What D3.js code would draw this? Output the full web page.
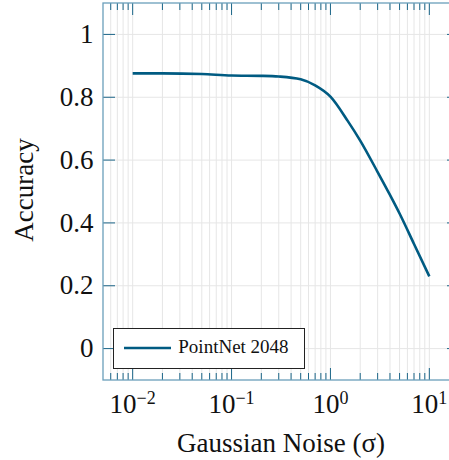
<!DOCTYPE html>
<html lang="en">
<head>
<meta charset="UTF-8">
<title>Accuracy vs Gaussian Noise</title>
<script src="https://d3js.org/d3.v7.min.js"></script>
<style>
  body { margin: 0; background: #fff; }
  svg { display: block; }
</style>
</head>
<body>
<script>
// data
const sigma = [0.01, 0.02, 0.05, 0.1, 0.2, 0.3, 0.5, 0.7, 1.0, 1.5, 2, 3, 4, 5, 7, 10];
const accuracy = [0.876, 0.876, 0.874, 0.869, 0.868, 0.866, 0.857, 0.838, 0.802, 0.724, 0.662, 0.562, 0.489, 0.430, 0.333, 0.230];
const seriesName = "PointNet 2048";
const yTicks = [0, 0.2, 0.4, 0.6, 0.8, 1];
const xDecades = [-2, -1, 0, 1];

const W = 449, H = 460;
const plotL = 103, plotR = 459, plotT = 3, plotB = 380;
const lineColor = "#005b82";
const axisColor = "#6a9fbb";
const tickColor = "#1c6689";
const gridColor = "#e6e6e6";
const serif = "'Liberation Serif', 'Times New Roman', serif";

const svg = d3.select("body").append("svg")
    .attr("width", W)
    .attr("height", H);

const x = d3.scaleLog()
    .domain([Math.pow(10, -2.3), Math.pow(10, 1.3)])
    .range([plotL, plotR]);

const y = d3.scaleLinear()
    .domain([-0.1, 1.1])
    .range([plotB, plotT]);

// minor/major x positions
const minorX = [];
for (let e = -3; e <= 1; e++) {
    for (let m = 2; m <= 9; m++) {
        const v = m * Math.pow(10, e);
        if (v > x.domain()[0] && v < x.domain()[1]) minorX.push(v);
    }
}
const majorX = xDecades.map(e => Math.pow(10, e));

// grid
const grid = svg.append("g");
grid.selectAll(".gx")
    .data(minorX.concat(majorX))
    .enter().append("line")
    .attr("x1", d => x(d)).attr("x2", d => x(d))
    .attr("y1", plotT).attr("y2", plotB)
    .attr("stroke", gridColor).attr("stroke-width", 1);
grid.selectAll(".gy")
    .data(yTicks)
    .enter().append("line")
    .attr("x1", plotL).attr("x2", plotR)
    .attr("y1", d => y(d)).attr("y2", d => y(d))
    .attr("stroke", gridColor).attr("stroke-width", 1);

// curve
const pts = sigma.map((s, i) => ({s: s, a: accuracy[i]}));
const line = d3.line()
    .x(d => x(d.s))
    .y(d => y(d.a))
    .curve(d3.curveMonotoneX);

svg.append("path")
    .datum(pts)
    .attr("fill", "none")
    .attr("stroke", lineColor)
    .attr("stroke-width", 2.6)
    .attr("stroke-linejoin", "round")
    .attr("d", line);

// ticks (inward, all four sides)
const ticks = svg.append("g").attr("stroke", tickColor).attr("stroke-width", 1);
function xTick(v, len) {
    ticks.append("line").attr("x1", x(v)).attr("x2", x(v)).attr("y1", plotB).attr("y2", plotB - len);
    ticks.append("line").attr("x1", x(v)).attr("x2", x(v)).attr("y1", plotT).attr("y2", plotT + len);
}
minorX.forEach(v => xTick(v, 7));
majorX.forEach(v => xTick(v, 12));
yTicks.forEach(v => {
    ticks.append("line").attr("x1", plotL).attr("x2", plotL + 12).attr("y1", y(v)).attr("y2", y(v));
    ticks.append("line").attr("x1", plotR).attr("x2", plotR - 12).attr("y1", y(v)).attr("y2", y(v));
});

// frame
svg.append("rect")
    .attr("x", plotL).attr("y", plotT)
    .attr("width", plotR - plotL).attr("height", plotB - plotT)
    .attr("fill", "none")
    .attr("stroke", axisColor)
    .attr("stroke-width", 1.3);

// y tick labels
svg.selectAll(".ylab")
    .data(yTicks)
    .enter().append("text")
    .attr("x", 93.5)
    .attr("y", d => y(d) + 8.7)
    .attr("text-anchor", "end")
    .attr("font-family", serif)
    .attr("font-size", 27)
    .attr("fill", "#111")
    .text(d => d === 0 || d === 1 ? d3.format("d")(d) : d3.format(".1f")(d));

// x tick labels 10^e
xDecades.forEach(e => {
    const t = svg.append("text")
        .attr("x", x(Math.pow(10, e)))
        .attr("y", 413.3)
        .attr("text-anchor", "middle")
        .attr("font-family", serif)
        .attr("font-size", 27)
        .attr("fill", "#111");
    t.append("tspan").text("10");
    t.append("tspan")
        .attr("font-size", 18)
        .attr("dy", -9)
        .text(e < 0 ? "\u2212" + Math.abs(e) : String(e));
});

// axis titles
svg.append("text")
    .attr("transform", "translate(32.5,190) rotate(-90)")
    .attr("text-anchor", "middle")
    .attr("font-family", serif)
    .attr("font-size", 27)
    .attr("fill", "#111")
    .text("Accuracy");

svg.append("text")
    .attr("x", 281)
    .attr("y", 451.7)
    .attr("text-anchor", "middle")
    .attr("font-family", serif)
    .attr("font-size", 27)
    .attr("fill", "#111")
    .text("Gaussian Noise (\u03c3)");

// legend
const lg = svg.append("g");
lg.append("rect")
    .attr("x", 113.5).attr("y", 328.5)
    .attr("width", 191).attr("height", 40)
    .attr("fill", "#fff")
    .attr("stroke", "#222")
    .attr("stroke-width", 1);
lg.append("line")
    .attr("x1", 124).attr("x2", 171)
    .attr("y1", 348).attr("y2", 348)
    .attr("stroke", lineColor)
    .attr("stroke-width", 2.6);
lg.append("text")
    .attr("x", 178.3)
    .attr("y", 353.3)
    .attr("font-family", serif)
    .attr("font-size", 19)
    .attr("fill", "#111")
    .text(seriesName);
</script>
</body>
</html>
